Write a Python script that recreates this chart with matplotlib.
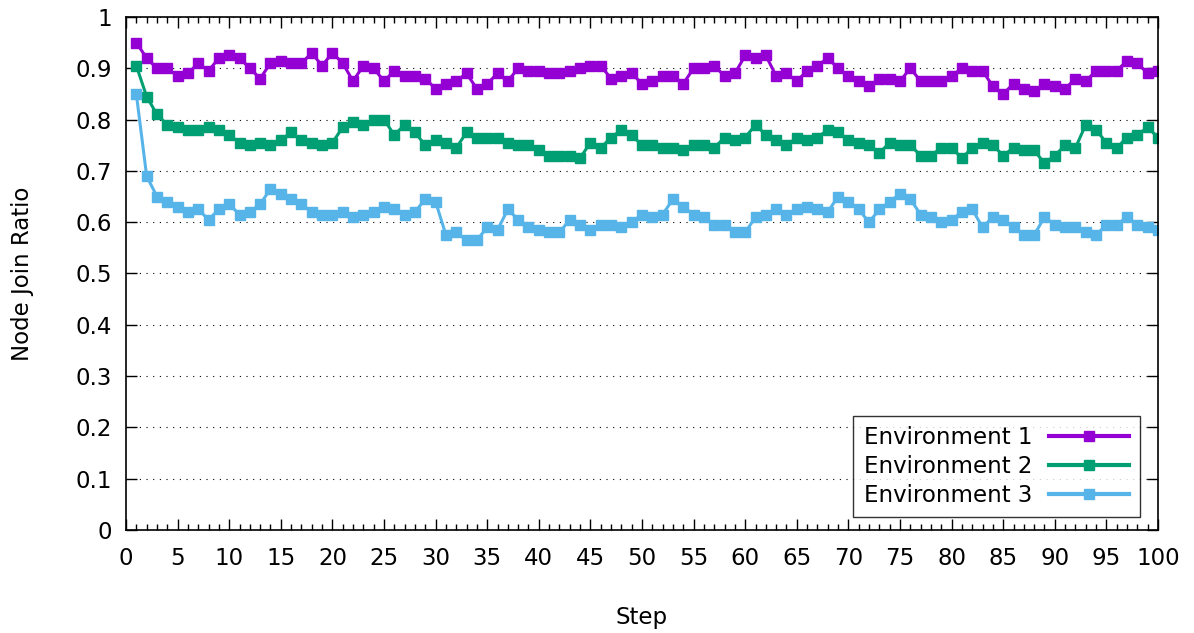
import numpy as np
import matplotlib
matplotlib.use('Agg')
import matplotlib.pyplot as plt
from matplotlib.ticker import MultipleLocator

steps = list(range(1, 101))

env1 = [0.95, 0.92, 0.90, 0.90, 0.885, 0.89, 0.91, 0.895, 0.92, 0.925,
        0.92, 0.90, 0.88, 0.91, 0.915, 0.91, 0.91, 0.93, 0.905, 0.93,
        0.91, 0.875, 0.905, 0.90, 0.875, 0.895, 0.885, 0.885, 0.88, 0.86,
        0.87, 0.875, 0.89, 0.86, 0.87, 0.89, 0.875, 0.90, 0.895, 0.895,
        0.89, 0.89, 0.895, 0.90, 0.905, 0.905, 0.88, 0.885, 0.89, 0.87,
        0.875, 0.885, 0.885, 0.87, 0.90, 0.90, 0.905, 0.885, 0.89, 0.925,
        0.92, 0.925, 0.885, 0.89, 0.875, 0.895, 0.905, 0.92, 0.90, 0.885,
        0.875, 0.865, 0.88, 0.88, 0.875, 0.90, 0.875, 0.875, 0.875, 0.885,
        0.90, 0.895, 0.895, 0.865, 0.85, 0.87, 0.86, 0.855, 0.87, 0.865,
        0.86, 0.88, 0.875, 0.895, 0.895, 0.895, 0.915, 0.91, 0.89, 0.895]

env2 = [0.905, 0.845, 0.81, 0.79, 0.785, 0.78, 0.78, 0.785, 0.78, 0.77,
        0.755, 0.75, 0.755, 0.75, 0.76, 0.775, 0.76, 0.755, 0.75, 0.755,
        0.785, 0.795, 0.79, 0.80, 0.80, 0.77, 0.79, 0.775, 0.75, 0.76,
        0.755, 0.745, 0.775, 0.765, 0.765, 0.765, 0.755, 0.75, 0.75, 0.74,
        0.73, 0.73, 0.73, 0.725, 0.755, 0.745, 0.765, 0.78, 0.77, 0.75,
        0.75, 0.745, 0.745, 0.74, 0.75, 0.75, 0.745, 0.765, 0.76, 0.765,
        0.79, 0.77, 0.76, 0.75, 0.765, 0.76, 0.765, 0.78, 0.775, 0.76,
        0.755, 0.75, 0.735, 0.755, 0.75, 0.75, 0.73, 0.73, 0.745, 0.745,
        0.725, 0.745, 0.755, 0.75, 0.73, 0.745, 0.74, 0.74, 0.715, 0.73,
        0.75, 0.745, 0.79, 0.78, 0.755, 0.745, 0.765, 0.77, 0.785, 0.765]

env3 = [0.85, 0.69, 0.65, 0.64, 0.63, 0.62, 0.625, 0.605, 0.625, 0.635,
        0.615, 0.62, 0.635, 0.665, 0.655, 0.645, 0.635, 0.62, 0.615, 0.615,
        0.62, 0.61, 0.615, 0.62, 0.63, 0.625, 0.615, 0.62, 0.645, 0.64,
        0.575, 0.58, 0.565, 0.565, 0.59, 0.585, 0.625, 0.605, 0.59, 0.585,
        0.58, 0.58, 0.605, 0.595, 0.585, 0.595, 0.595, 0.59, 0.60, 0.615,
        0.61, 0.615, 0.645, 0.63, 0.615, 0.61, 0.595, 0.595, 0.58, 0.58,
        0.61, 0.615, 0.625, 0.615, 0.625, 0.63, 0.625, 0.62, 0.65, 0.64,
        0.625, 0.60, 0.625, 0.64, 0.655, 0.645, 0.615, 0.61, 0.60, 0.605,
        0.62, 0.625, 0.59, 0.61, 0.605, 0.59, 0.575, 0.575, 0.61, 0.595,
        0.59, 0.59, 0.58, 0.575, 0.595, 0.595, 0.61, 0.595, 0.59, 0.585]

labels = ['Environment 1', 'Environment 2', 'Environment 3']
colors = ['#9400D3', '#009E73', '#56B4E9']

plt.rcParams['font.family'] = ['DejaVu Sans']
fs = 16.5

fig = plt.figure(figsize=(11.94, 6.33), dpi=100)
ax = fig.add_axes([126 / 1194, 1 - 530 / 633, (1158 - 126) / 1194, (530 - 17) / 633])

for data, lab, col in zip([env1, env2, env3], labels, colors):
    ax.plot(steps, data, color=col, lw=2.2, marker='s', ms=6.5, label=lab)

ax.set_xlim(0, 100)
ax.set_ylim(0, 1)
ax.xaxis.set_major_locator(MultipleLocator(5))
ax.xaxis.set_minor_locator(MultipleLocator(1))
ax.set_yticks(np.arange(0, 1.01, 0.1))
ax.set_yticklabels(['0'] + ['%.1f' % v for v in np.arange(0.1, 0.95, 0.1)] + ['1'])
ax.tick_params(which='both', direction='in', top=True, right=True, labelsize=fs)
ax.tick_params(axis='x', pad=12)
ax.tick_params(axis='y', pad=10)
ax.tick_params(which='major', length=8, width=1)
ax.tick_params(which='minor', length=4, width=1)
for s in ax.spines.values():
    s.set_linewidth(1.2)

ax.yaxis.grid(True, linestyle=(0, (1, 5)), color='black', lw=0.8)
ax.set_axisbelow(True)

ax.set_xlabel('Step', fontsize=fs, labelpad=26)
ax.set_ylabel('Node Join Ratio', fontsize=fs, labelpad=30)

leg = ax.legend(loc='lower right', bbox_to_anchor=(0.989, 0.012), markerfirst=False,
                fontsize=fs, frameon=True, fancybox=False, edgecolor='black',
                handlelength=3.5, borderpad=0.45, labelspacing=0.25, handletextpad=0.75,
                borderaxespad=0.3)
leg.get_frame().set_linewidth(1.0)
for h in leg.get_lines():
    h.set_linewidth(3)
    h.set_markersize(7)

fig.savefig('out.png', dpi=100)
